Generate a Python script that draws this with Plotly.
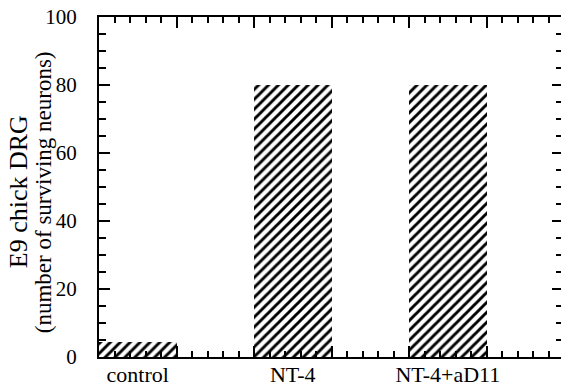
import plotly.graph_objects as go

# Survival of E9 chick DRG neurons under each treatment
categories = ["control", "NT-4", "NT-4+aD11"]
surviving = [4.5, 80, 80]
bar_positions = [0.5, 2.5, 4.5]
y_tick_values = [0, 20, 40, 60, 80, 100]
y_title_lines = ["E9 chick DRG", "(number of surviving neurons)"]

FONT = "'Liberation Serif', 'Times New Roman', 'DejaVu Serif', serif"
X_RANGE = [0, 5.96]
Y_RANGE = [0, 100]

fig = go.Figure()

fig.add_trace(go.Bar(
    x=bar_positions,
    y=surviving,
    width=1.0,
    marker=dict(
        color="white",
        line=dict(width=0),
        pattern=dict(shape="/", fgcolor="#000000", bgcolor="#ffffff",
                     fgopacity=1, fillmode="replace",
                     size=7, solidity=0.42),
    ),
    showlegend=False,
    hoverinfo="skip",
))

# helper trace so the label axis and right tick axis are drawn
fig.add_trace(go.Scatter(x=[None], y=[None], xaxis="x2", yaxis="y2",
                         showlegend=False, hoverinfo="skip"))

# two-line rotated y title, each line placed separately
title_annotations = [
    dict(
        text=line,
        textangle=-90,
        xref="paper", yref="paper",
        x=xpos, y=0.485,
        xanchor="center", yanchor="middle",
        showarrow=False,
        font=dict(family=FONT, size=size, color="black"),
    )
    for line, xpos, size in zip(y_title_lines, [-0.175, -0.121], [26, 23])
]

fig.update_layout(
    width=561,
    height=387,
    margin=dict(l=99, r=0, t=17, b=30),
    paper_bgcolor="white",
    plot_bgcolor="white",
    bargap=0,
    font=dict(family=FONT, size=21, color="black"),
    xaxis=dict(
        range=X_RANGE,
        showgrid=False, zeroline=False,
        showline=True, linecolor="black", linewidth=2,
        mirror="ticks",
        ticks="inside", tickmode="linear", tick0=0, dtick=1,
        ticklen=11, tickwidth=1.5, tickcolor="black",
        minor=dict(ticks="inside", tickmode="linear", tick0=0, dtick=0.2,
                   ticklen=6, tickwidth=1.5, tickcolor="black"),
        showticklabels=False,
    ),
    xaxis2=dict(
        range=X_RANGE,
        overlaying="x", anchor="y", side="bottom",
        showgrid=False, zeroline=False, showline=False,
        ticks="", tickmode="array",
        tickvals=bar_positions, ticktext=categories,
        ticklabelstandoff=2,
        tickfont=dict(family=FONT, size=22, color="black"),
    ),
    yaxis=dict(
        range=Y_RANGE,
        showgrid=False, zeroline=False,
        showline=True, linecolor="black", linewidth=2,
        ticks="inside", tickmode="array", tickvals=y_tick_values,
        ticklen=11, tickwidth=1.5, tickcolor="black",
        minor=dict(ticks="inside", tickmode="linear", tick0=0, dtick=5,
                   ticklen=7, tickwidth=1.5, tickcolor="black"),
        ticklabelstandoff=16,
        tickfont=dict(family=FONT, size=21, color="black"),
    ),
    yaxis2=dict(
        range=Y_RANGE,
        overlaying="y", anchor="x", side="right",
        showgrid=False, zeroline=False, showline=False,
        ticks="inside", tickmode="array", tickvals=y_tick_values,
        ticklen=9, tickwidth=1.5, tickcolor="black",
        minor=dict(ticks="inside", tickmode="linear", tick0=0, dtick=5,
                   ticklen=5, tickwidth=1.5, tickcolor="black"),
        showticklabels=False,
    ),
    annotations=title_annotations,
)

fig.write_html("out.html")
